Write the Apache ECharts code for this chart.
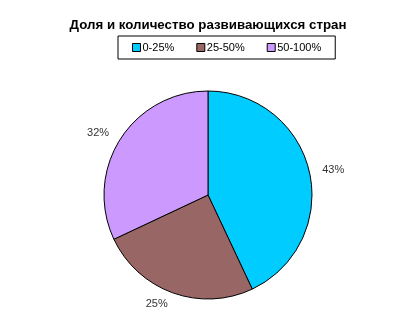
<!DOCTYPE html>
<html><head><meta charset="utf-8">
<script src="https://cdn.jsdelivr.net/npm/echarts@6/dist/echarts.min.js"></script>
<style>html,body{margin:0;padding:0;background:#fff}#c{width:416px;height:312px}</style>
</head><body><div id="c"></div>
<script>
const titleText = 'Доля и количество развивающихся стран';
const categories = ['0-25%', '25-50%', '50-100%'];
const values = [43, 25, 32];
const colors = ['#00CCFF', '#996666', '#CC99FF'];

const chart = echarts.init(document.getElementById('c'), null, {renderer: 'canvas'});
const data = categories.map((n, i) => ({name: n, value: values[i], itemStyle: {color: colors[i]}}));
chart.setOption({
  backgroundColor: '#fff',
  animation: false,
  title: {
    text: titleText, left: 203, top: 14, textAlign: 'center',
    textStyle: {fontFamily: 'Arial, Liberation Sans', fontSize: 13.3, fontWeight: 'bold', color: '#000'}
  },
  legend: {
    data: categories, left: 118, top: 36,
    orient: 'horizontal',
    padding: [6, 14, 6, 14],
    itemGap: 22, itemWidth: 8, itemHeight: 8,
    borderColor: '#000', borderWidth: 1,
    icon: 'rect',
    itemStyle: {borderColor: '#000', borderWidth: 1},
    textStyle: {fontFamily: 'Arial, Liberation Sans', fontSize: 11, color: '#000', padding: [0, 0, 0, -3]}
  },
  series: [{
    type: 'pie', center: [208, 195], radius: 104, startAngle: 90, clockwise: true,
    silent: true,
    avoidLabelOverlap: false,
    itemStyle: {borderColor: '#000', borderWidth: 1},
    label: {show: true, position: 'outside', formatter: p => p.value + '%',
      distanceToLabelLine: 1,
      fontFamily: 'Arial, Liberation Sans', fontSize: 11, color: '#333'},
    labelLine: {show: false, length: 12, length2: 0},
    data: data
  }]
});
</script></body></html>
